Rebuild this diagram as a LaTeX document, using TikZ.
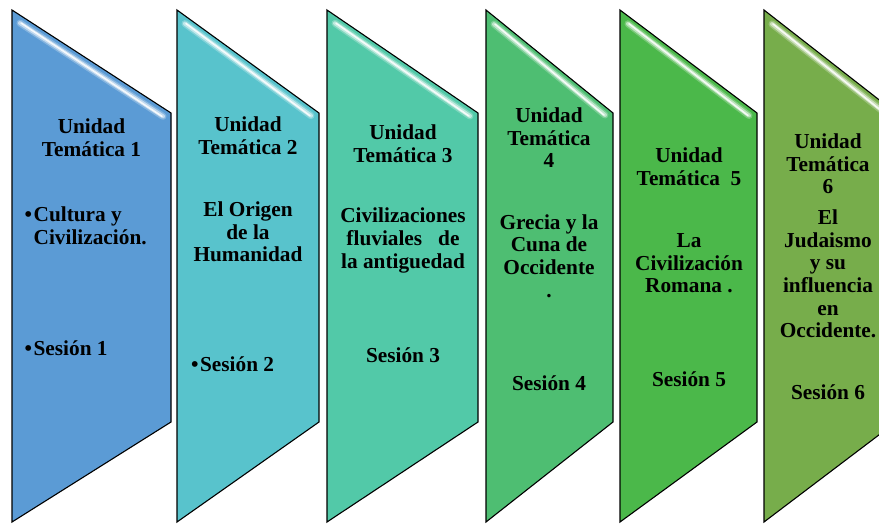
\documentclass[tikz,border=0pt]{standalone}
\usepackage{fontspec}
\setmainfont{Liberation Serif}[BoldFont={Liberation Serif Bold}]
\newfontfamily\tnrb{Liberation Serif Bold}
\definecolor{cA}{RGB}{91,155,213}
\definecolor{cB}{RGB}{88,195,204}
\definecolor{cC}{RGB}{82,201,168}
\definecolor{cD}{RGB}{78,190,114}
\definecolor{cE}{RGB}{75,184,74}
\definecolor{cF}{RGB}{119,173,75}
\begin{document}
\begin{tikzpicture}[x=1pt,y=-1pt,
  chev/.style={draw=black, line width=1.1pt, line join=miter},
  lbl/.style={font=\tnrb\fontsize{21.3}{22.6}\selectfont, align=center, inner sep=0pt, text=black}]
\useasboundingbox (0,0) rectangle (879,523);
\clip (0,0) rectangle (879,523);
\foreach \L/\R/\c in {12/171/cA, 177/319/cB, 327/478/cC, 486/613/cD, 620/757/cE, 764/896/cF}{
  \pgfmathsetmacro{\s}{103/(\R-\L)}
  \pgfmathsetmacro{\ya}{10+7*\s+8.5}
  \pgfmathsetmacro{\yb}{113-8*\s+8.5}
  \filldraw[chev, fill=\c] (\L,10) -- (\R,113) -- (\R,422) -- (\L,522) -- cycle;
  \draw[white, opacity=0.25, line width=7pt, line cap=round] (\L+8,\ya) -- (\R-8,\yb);
  \draw[white, opacity=0.5, line width=4pt, line cap=round] (\L+8,\ya) -- (\R-8,\yb);
  \draw[white, opacity=0.85, line width=1.6pt, line cap=round] (\L+9,\ya) -- (\R-9,\yb);
}
\node[lbl] (u1) at (91.5,137.5) {Unidad\\Temática 1};
\node[lbl, align=left, anchor=west] (t1) at (24.5,226) {•\kern1.5pt Cultura y\\\phantom{•}\kern1.5pt Civilización.};
\node[lbl, anchor=west] (s1) at (24.5,348) {•\kern1.5pt Sesión 1};
\node[lbl] (u2) at (248,136) {Unidad\\Temática 2};
\node[lbl] (t2) at (248,232) {El Origen\\de la\\Humanidad};
\node[lbl, anchor=west] (s2) at (191,364) {•\kern1.5pt Sesión 2};
\node[lbl] (u3) at (403,143.5) {Unidad\\Temática 3};
\node[lbl] (t3) at (403,240.5) {Civilizaciones\\fluviales\ \ \ de\\la antiguedad};
\node[lbl] (s3) at (403,355) {Sesión 3};
\node[lbl] (u4) at (549,138) {Unidad\\Temática\\4};
\node[lbl] (t4) at (549,256) {Grecia y la\\Cuna de\\Occidente\\.};
\node[lbl] (s4) at (549,383) {Sesión 4};
\node[lbl] (u5) at (689,166.5) {Unidad\\Temática\ \ 5};
\node[lbl] (t5) at (689,263.5) {La\\Civilización\\Romana .};
\node[lbl] (s5) at (689,379) {Sesión 5};
\node[lbl] (u6) at (828,164) {Unidad\\Temática\\6};
\node[lbl] (t6) at (828,274) {El\\Judaismo\\y su\\influencia\\en\\Occidente.};
\node[lbl] (s6) at (828,392) {Sesión 6};
\end{tikzpicture}
\end{document}
